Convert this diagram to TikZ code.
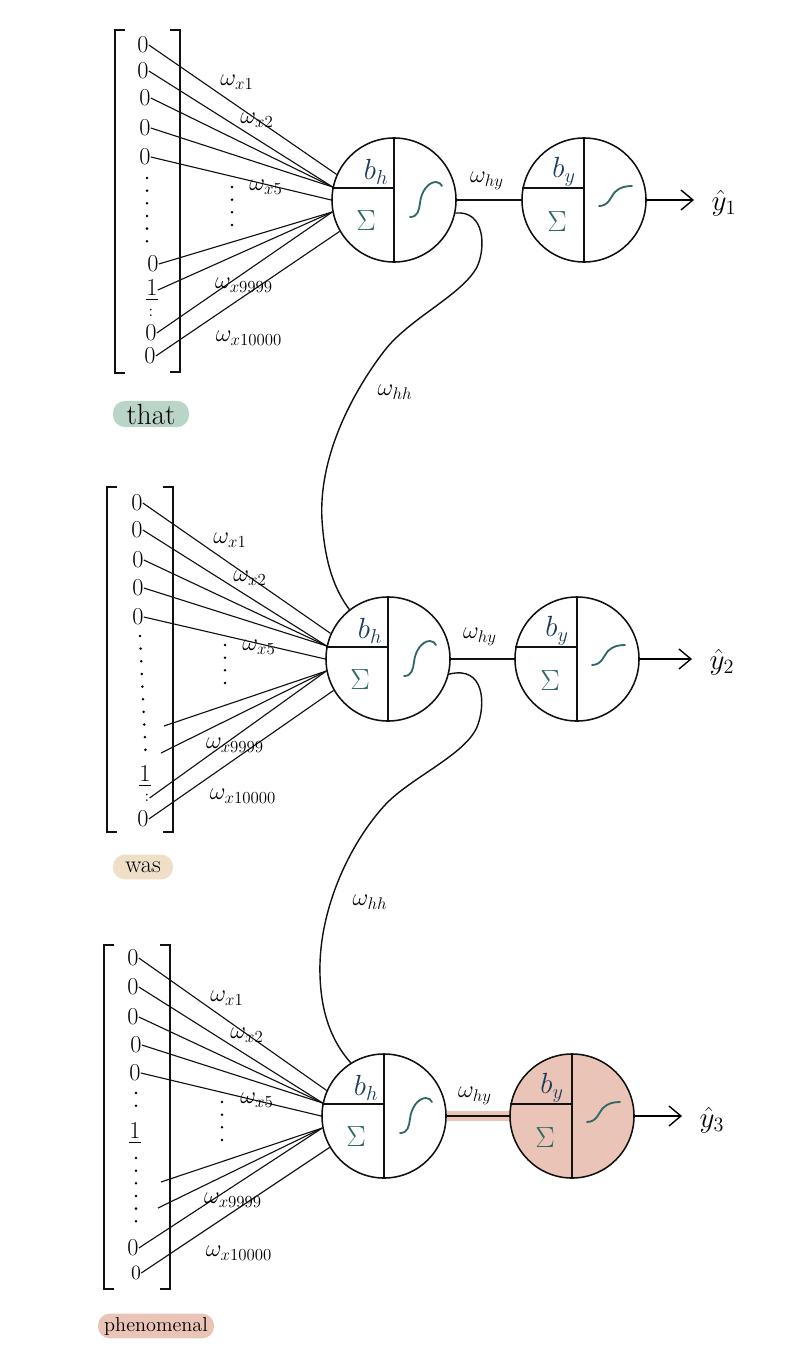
\documentclass[tikz,border=0pt]{standalone}
\usepackage{amsmath}
\usepackage{xcolor}
\usepackage{tikz}
\usetikzlibrary{arrows.meta,positioning,calc}
\definecolor{rnink}{HTML}{111111}
\definecolor{rnblue}{HTML}{1B3A5C}
\definecolor{rnteal}{HTML}{2F6866}
\definecolor{rngreen}{HTML}{B9D5C8}
\definecolor{rnsand}{HTML}{EEDFC6}
\definecolor{rnsalmon}{HTML}{EAC4B6}

\begin{document}
\begin{tikzpicture}[
  x=0.025cm,y=-0.025cm,
  every node/.style={inner sep=1pt},
  neuron/.style={circle,draw=rnink,fill=white,minimum size=3.1cm,line width=1.1pt,inner sep=0pt},
  hot/.style={neuron,fill=rnsalmon},
  split/.style={line width=1.1pt,color=rnink},
  entry/.style={font=\LARGE,inner sep=0pt},
  wire/.style={line width=0.8pt,color=rnink},
  band/.style={line width=7pt,color=rnsalmon},
  wlab/.style={font=\LARGE},
  bias/.style={font=\huge,color=rnblue},
  sumlab/.style={font=\huge,color=rnteal},
  sig/.style={line width=1.3pt,color=rnteal,line cap=round},
  rec/.style={line width=1pt,color=rnink},
  outarr/.style={-{Straight Barb[length=3mm,width=5mm]},line width=1pt,shorten >=0.4cm},
  brk/.style={line width=1.1pt,color=rnink},
  dotline/.style={line width=2pt,line cap=round,dash pattern=on 0pt off 9pt},
  tag/.style={rounded corners=8.5pt,minimum height=0.62cm,inner sep=2pt}
]
\fill[white] (0,0) rectangle (800,1354);
\useasboundingbox (0,0) rectangle (800,1354);

% ---- first word: that
\draw[brk] (125,30) -- (115,30) -- (115,373) -- (125,373);
\draw[brk] (170,30) -- (180,30) -- (180,372) -- (170,372);
\node[entry] (a1) at (143,45) {0};
\node[entry] (a2) at (143,71) {0};
\node[entry] (a3) at (145,98) {0};
\node[entry] (a4) at (145,128) {0};
\node[entry] (a5) at (145,157) {0};
\draw[dotline] (147,178) -- (147,252);
\node[entry] (a6) at (153,264) {0};
\node[entry] (a7) at (152,290) {\underline{1}};
\node[entry,font=\large] (a8) at (151,313) {:};
\node[entry] (a9) at (151,333) {0};
\node[entry] (a10) at (150,356) {0};
\draw[dotline] (232,187) -- (232,235);

\node[neuron] (h1) at (394,200) {};
\node[neuron] (y1) at (584,200) {};
\foreach \n/\a in {a1/156,a2/168,a3/168,a4/168,a5/180,a6/191,a7/191,a9/191,a10/210}
  \draw[wire] (\n.east) -- (h1.\a);
\node[wlab] (wa1) at (237,82) {$\omega_{x1}$};
\node[wlab] (wa2) at (257,120) {$\omega_{x2}$};
\node[wlab] (wa5) at (266,187) {$\omega_{x5}$};
\node[wlab] (wa9) at (244,285) {$\omega_{x9999}$};
\node[wlab] (wa10) at (249,338) {$\omega_{x10000}$};

\draw[wire] (h1.east) -- (y1.west);
\node[wlab] (hy1) at (487,181) {$\omega_{hy}$};
\node[font=\huge] (o1) at (724,203) {$\hat{y}_1$};
\draw[outarr] (y1.east) -- (y1.east -| o1.west);
\node[tag,fill=rngreen,minimum width=1.9cm,font=\huge] (t1) at (151,414) {that};

% ---- second word: was
\draw[brk] (117,487) -- (107,487) -- (107,832) -- (117,832);
\draw[brk] (163,487) -- (173,487) -- (173,832) -- (163,832);
\node[entry] (b1) at (137,503) {0};
\node[entry] (b2) at (137,530) {0};
\node[entry] (b3) at (138,560) {0};
\node[entry] (b4) at (138,588) {0};
\node[entry] (b5) at (138,617) {0};
\draw[dotline] (140,636) -- (146,762);
\coordinate (b6) at (164,726);
\coordinate (b7) at (161,753);
\node[entry] (b8) at (145,776) {\underline{1}};
\node[entry,font=\large] (b9) at (147,798) {:};
\node[entry] (b10) at (143,819) {0};
\draw[dotline] (225,645) -- (225,694);

\node[neuron] (h2) at (388,659) {};
\node[neuron] (y2) at (577,659) {};
\foreach \n/\a in {b1.east/156,b2.east/168,b3.east/168,b4.east/168,b5.east/180,b6/191,b7/191,b9.east/191,b10.east/210}
  \draw[wire] (\n) -- (h2.\a);
\node[wlab] (wb1) at (230,540) {$\omega_{x1}$};
\node[wlab] (wb2) at (250,578) {$\omega_{x2}$};
\node[wlab] (wb5) at (259,647) {$\omega_{x5}$};
\node[wlab] (wb9) at (235,745) {$\omega_{x9999}$};
\node[wlab] (wb10) at (243,796) {$\omega_{x10000}$};

\draw[wire] (h2.east) -- (y2.west);
\node[wlab] (hy2) at (480,637) {$\omega_{hy}$};
\node[font=\huge] (o2) at (722,662) {$\hat{y}_2$};
\draw[outarr] (y2.east) -- (y2.east -| o2.west);
\node[tag,fill=rnsand,minimum width=1.5cm,font=\LARGE] (t2) at (143,867) {was};

% ---- third word: phenomenal
\draw[brk] (114,945) -- (104,945) -- (104,1289) -- (114,1289);
\draw[brk] (160,945) -- (170,945) -- (170,1289) -- (160,1289);
\node[entry] (c1) at (133,958) {0};
\node[entry] (c2) at (133,987) {0};
\node[entry] (c3) at (133,1017) {0};
\node[entry] (c4) at (136,1045) {0};
\node[entry] (c5) at (135,1073) {0};
\draw[dotline] (136,1093) -- (136,1118);
\node[entry] (c6) at (135,1133) {\underline{1}};
\draw[dotline] (136,1158) -- (136,1229);
\coordinate (c7) at (161,1182);
\coordinate (c8) at (158,1208);
\node[entry] (c9) at (133,1248) {0};
\node[entry,font=\Large] (c10) at (136,1273) {0};
\draw[dotline] (222,1102) -- (222,1150);

\node[neuron] (h3) at (384,1116) {};
\draw[band] (h3.east) -- (511,1116);
\node[hot] (y3) at (572,1116) {};
\foreach \n/\a in {c1.east/156,c2.east/168,c3.east/168,c4.east/168,c5.east/180,c7/191,c8/191,c9.east/191,c10.east/210}
  \draw[wire] (\n) -- (h3.\a);
\node[wlab] (wc1) at (227,998) {$\omega_{x1}$};
\node[wlab] (wc2) at (247,1035) {$\omega_{x2}$};
\node[wlab] (wc5) at (257,1100) {$\omega_{x5}$};
\node[wlab] (wc9) at (233,1200) {$\omega_{x9999}$};
\node[wlab] (wc10) at (239,1253) {$\omega_{x10000}$};

\draw[wire] (h3.east) -- (y3.west);
\node[wlab] (hy3) at (475,1096) {$\omega_{hy}$};
\node[font=\huge] (o3) at (712,1120) {$\hat{y}_3$};
\draw[outarr] (y3.east) -- (y3.east -| o3.west);
\node[tag,fill=rnsalmon,minimum width=2.9cm,font=\Large] (t3) at (156,1326) {phenomenal};

% ---- cell insides
\foreach \h in {h1,h2,h3} {
  \draw[split] (\h.north) -- (\h.south);
  \draw[split] (\h.169) -- (\h.169 -| \h.center);
  \node[bias] at ($(\h.center)+(-18,-28)$) {$b_h$};
  \node[sumlab] at ($(\h.center)+(-28,21)$) {$\Sigma$};
  \begin{scope}[shift={(\h.center)}]
    \draw[sig] (16,17) .. controls (24,17) and (25,10) .. (26,3)
      .. controls (27,-8) and (34,-18) .. (42,-18) .. controls (45,-18) and (47,-16) .. (48,-14);
  \end{scope}
}
\foreach \y in {y1,y2,y3} {
  \draw[split] (\y.north) -- (\y.south);
  \draw[split] (\y.169) -- (\y.169 -| \y.center);
  \node[bias] at ($(\y.center)+(-20,-28)$) {$b_y$};
  \node[sumlab] at ($(\y.center)+(-27,22)$) {$\Sigma$};
  \begin{scope}[shift={(\y.center)}]
    \draw[sig] (15,6) .. controls (25,6) and (27,-4) .. (31,-8)
      .. controls (36,-13) and (42,-14) .. (48,-14);
  \end{scope}
}

% ---- recurrent links
\draw[rec] (h1.-12) .. controls (485,210) and (486,248) .. (477,267)
  .. controls (462,295) and (410,318) .. (385,350)
  .. controls (360,382) and (318,450) .. (322,520)
  .. controls (325,565) and (335,590) .. (h2.128);
\node[wlab] (hh1) at (395,392) {$\omega_{hh}$};
\draw[rec] (h2.-14) .. controls (485,665) and (486,705) .. (477,727)
  .. controls (465,755) and (410,778) .. (385,805)
  .. controls (350,843) and (318,910) .. (320,975)
  .. controls (321,1015) and (333,1043) .. (h3.122);
\node[wlab] (hh2) at (370,902) {$\omega_{hh}$};
\end{tikzpicture}
\end{document}
